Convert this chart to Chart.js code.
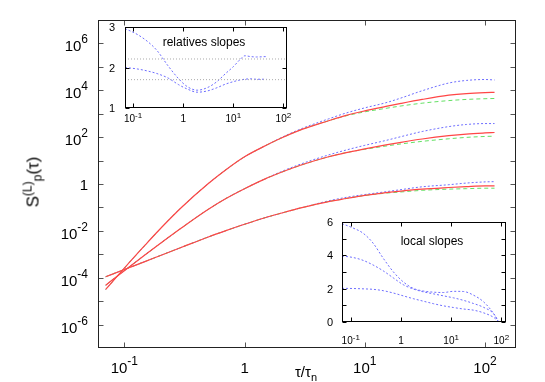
<!DOCTYPE html>
<html lang="en">
<head>
<meta charset="UTF-8" />
<title>S_p(tau) structure functions</title>
<script src="https://cdn.jsdelivr.net/npm/chart.js@4.4.0/dist/chart.umd.min.js"></script>
<style>
  html, body { margin: 0; padding: 0; background: #fff; }
  #wrap { position: relative; width: 545px; height: 382px; font-family: 'Liberation Sans', Arial, sans-serif; color: #000; }
  canvas { position: absolute; }
  .lbl { position: absolute; white-space: nowrap; }
  #ytitle { left: 34px; top: 182px; font-size: 17px; line-height: 17px; transform: translate(-50%, -50%) rotate(-90deg); }
  #ytitle .sup { font-size: 12px; position: relative; top: -7px; }
  #ytitle .sub { font-size: 12px; position: relative; top: 3px; }
  #xtitle { left: 306px; top: 364px; font-size: 15px; line-height: 15px; transform: translateX(-50%); }
  #xtitle .sub { font-size: 11px; position: relative; top: 4px; }
  .ititle { font-size: 12px; line-height: 12px; transform: translateX(-50%); }
</style>
</head>
<body>
<div id="wrap">
  <canvas id="main" width="545" height="382" style="left:0;top:0"></canvas>
  <canvas id="rel" width="200" height="110" style="left:100px;top:20px"></canvas>
  <canvas id="loc" width="200" height="145" style="left:315px;top:210px"></canvas>
  <div class="lbl" id="ytitle">S<span class="sup">(L)</span><span class="sub">p</span>(τ)</div>
  <div class="lbl" id="xtitle">τ/τ<span class="sub">n</span></div>
  <div class="lbl ititle" style="left:204px;top:36px">relatives slopes</div>
  <div class="lbl ititle" style="left:432px;top:235px">local slopes</div>
</div>
<script>
  // main plot: S_p(tau), p = 2, 4, 6 (solid / dashed / dotted)
  const tau = [0.07, 0.1, 0.15, 0.2, 0.3, 0.5, 0.7, 1, 1.5, 2, 3, 5, 7, 10, 15, 20, 30, 50, 70, 100, 120];

  const S6_solid  = [3.16e-5, 2.57e-4, 2.57e-3, 1.26e-2, 0.102, 1.05, 4.07, 14.5, 43.7, 89.1, 214, 501, 851, 1318, 2042, 2754, 4074, 6166, 7244, 7943, 8128];
  const S6_dashed = [3.16e-5, 2.57e-4, 2.57e-3, 1.26e-2, 0.102, 1.05, 4.07, 14.5, 43.7, 89.1, 214, 501, 813, 1202, 1698, 2138, 2818, 3631, 4074, 4365, 4467];
  const S6_dotted = [3.16e-5, 2.57e-4, 2.57e-3, 1.26e-2, 0.102, 1.05, 4.07, 14.5, 43.7, 93.3, 234, 603, 1072, 1778, 2951, 4677, 9550, 20417, 26303, 28840, 27542];

  const S4_solid  = [4.79e-5, 2.0e-4, 9.77e-4, 2.95e-3, 1.35e-2, 8.32e-2, 0.240, 0.631, 1.70, 3.09, 6.61, 14.5, 21.9, 31.6, 46.8, 60.3, 83.2, 115, 135, 151, 158];
  const S4_dashed = [4.79e-5, 2.0e-4, 9.77e-4, 2.95e-3, 1.35e-2, 8.32e-2, 0.240, 0.631, 1.70, 3.09, 6.61, 14.5, 21.9, 30.2, 41.7, 51.3, 66.1, 85.1, 97.7, 107, 110];
  const S4_dotted = [4.79e-5, 2.0e-4, 9.77e-4, 2.95e-3, 1.35e-2, 8.32e-2, 0.240, 0.631, 1.70, 3.31, 7.41, 17.4, 28.2, 44.7, 72.4, 105, 174, 282, 347, 380, 380];

  const S2_solid  = [1.10e-4, 2.24e-4, 5.01e-4, 8.91e-4, 2.0e-3, 5.5e-3, 1.02e-2, 1.91e-2, 3.72e-2, 5.62e-2, 9.77e-2, 0.178, 0.240, 0.324, 0.427, 0.501, 0.603, 0.708, 0.776, 0.832, 0.832];
  const S2_dashed = [1.10e-4, 2.24e-4, 5.01e-4, 8.91e-4, 2.0e-3, 5.5e-3, 1.02e-2, 1.91e-2, 3.72e-2, 5.62e-2, 9.77e-2, 0.178, 0.240, 0.324, 0.407, 0.457, 0.537, 0.603, 0.631, 0.661, 0.661];
  const S2_dotted = [1.10e-4, 2.24e-4, 5.01e-4, 8.91e-4, 2.0e-3, 5.5e-3, 1.02e-2, 1.91e-2, 3.72e-2, 5.62e-2, 9.77e-2, 0.191, 0.269, 0.355, 0.468, 0.575, 0.759, 0.933, 1.096, 1.23, 1.259];

  // inset "relatives slopes"
  const relTau   = [0.069, 0.12, 0.2, 0.3, 0.5, 0.8, 1.2, 1.9, 3, 4.7, 7, 10, 13.5, 17, 22, 29, 46];
  const relUpper = [2.96, 2.82, 2.63, 2.42, 2.04, 1.73, 1.53, 1.44, 1.50, 1.65, 1.85, 2.02, 2.19, 2.29, 2.27, 2.26, 2.27];
  const relLower = [2.0, 1.965, 1.91, 1.85, 1.74, 1.58, 1.47, 1.39, 1.42, 1.50, 1.59, 1.65, 1.69, 1.71, 1.72, 1.71, 1.71];
  const relRef   = [2.21, 1.70];

  // inset "local slopes"
  const locTau = [0.067, 0.111, 0.176, 0.279, 0.443, 0.702, 1.11, 1.76, 2.79, 4.43, 7.02, 11.1, 17.6, 27.9, 44.3, 70.2, 87];
  const loc6 = [5.90, 5.64, 5.33, 4.73, 3.83, 3.02, 2.41, 2.02, 1.86, 1.79, 1.77, 1.84, 1.83, 1.61, 1.21, 0.51, 0.04];
  const loc4 = [3.96, 3.87, 3.70, 3.42, 3.07, 2.65, 2.24, 1.98, 1.81, 1.69, 1.57, 1.45, 1.30, 1.11, 0.88, 0.50, 0.04];
  const loc2 = [2.02, 2.01, 1.99, 1.96, 1.88, 1.74, 1.57, 1.40, 1.25, 1.10, 0.97, 0.87, 0.78, 0.71, 0.55, 0.28, 0.04];

  // ticks
  const decadesX = [0.1, 1, 10, 100];
  const decadeLabels = [[0.1, '10', '-1'], [1, '1', ''], [10, '10', '1'], [100, '10', '2']];
  const mainYTicks = [1e-6, 1e-5, 1e-4, 1e-3, 1e-2, 1e-1, 1, 1e1, 1e2, 1e3, 1e4, 1e5, 1e6];
  const mainYLabels = [[1e-6, '10', '-6'], [1e-4, '10', '-4'], [1e-2, '10', '-2'], [1, '1', ''], [1e2, '10', '2'], [1e4, '10', '4'], [1e6, '10', '6']];
  const relYTicks = [1, 2, 3];
  const locYTicks = [0, 1, 2, 3, 4, 5, 6];

  const FONT = "'Liberation Sans', Arial, sans-serif";
  const RED = 'rgb(255,70,70)';
  const GREEN = 'rgb(100,225,100)';
  const BLUE = 'rgb(110,110,255)';

  function series(xs, ys) {
    return xs.map((x, i) => ({ x: x, y: ys[i] }));
  }

  function drawLabel(ctx, base, exp, x, y, align, c) {
    ctx.font = c.size + 'px ' + FONT;
    const wb = ctx.measureText(base).width;
    ctx.font = c.expSize + 'px ' + FONT;
    const we = exp ? ctx.measureText(exp).width : 0;
    const x0 = align === 'center' ? x - (wb + we) / 2 : x - (wb + we);
    ctx.textAlign = 'left';
    ctx.textBaseline = 'alphabetic';
    ctx.fillStyle = '#000';
    ctx.font = c.size + 'px ' + FONT;
    ctx.fillText(base, x0, y);
    if (exp) {
      ctx.font = c.expSize + 'px ' + FONT;
      ctx.fillText(exp, x0 + wb, y - c.rise);
    }
  }

  // gnuplot-like box: inward ticks on all four sides, labels outside
  function makeFrame(c) {
    return {
      id: 'frame',
      beforeDraw(chart) {
        const a = chart.chartArea, ctx = chart.ctx;
        ctx.save();
        ctx.fillStyle = '#fff';
        ctx.fillRect(a.left, a.top, a.right - a.left, a.bottom - a.top);
        ctx.restore();
      },
      afterDraw(chart) {
        const ctx = chart.ctx, a = chart.chartArea;
        const sx = chart.scales.x, sy = chart.scales.y;
        const L = Math.round(a.left) + 0.5, R = Math.round(a.right) - 0.5;
        const T = Math.round(a.top) + 0.5, B = Math.round(a.bottom) - 0.5;
        ctx.save();
        ctx.lineWidth = 1;
        ctx.strokeStyle = c.tickColor;
        ctx.beginPath();
        c.xTicks.forEach(v => {
          const px = Math.round(sx.getPixelForValue(v)) + 0.5;
          ctx.moveTo(px, B); ctx.lineTo(px, B - c.tickLen);
          ctx.moveTo(px, T); ctx.lineTo(px, T + c.tickLen);
        });
        c.yTicks.forEach(v => {
          const py = Math.round(sy.getPixelForValue(v)) + 0.5;
          ctx.moveTo(L, py); ctx.lineTo(L + c.tickLen, py);
          ctx.moveTo(R, py); ctx.lineTo(R - c.tickLen, py);
        });
        ctx.stroke();
        ctx.strokeStyle = c.border;
        ctx.strokeRect(L, T, R - L, B - T);
        c.xLabels.forEach(([v, b, e]) =>
          drawLabel(ctx, b, e, sx.getPixelForValue(v), a.bottom + c.xDy, 'center', c.x));
        c.yLabels.forEach(([v, b, e]) =>
          drawLabel(ctx, b, e, a.left - c.yDx, sy.getPixelForValue(v) + (e ? c.yDyExp : c.yDy), 'right', c.y));
        ctx.restore();
      }
    };
  }

  function baseOptions(padding, xmin, xmax, yType, ymin, ymax) {
    return {
      responsive: false,
      animation: false,
      devicePixelRatio: 1,
      layout: { padding: padding },
      scales: {
        x: { type: 'logarithmic', display: false, min: xmin, max: xmax },
        y: { type: yType, display: false, min: ymin, max: ymax }
      },
      elements: {
        point: { radius: 0 },
        line: { cubicInterpolationMode: 'monotone', borderWidth: 1 }
      },
      plugins: { legend: { display: false }, tooltip: { enabled: false } }
    };
  }

  // red solid on top, then green dashed, blue dotted underneath
  function group(ys) {
    return [
      { data: series(tau, ys[2]), borderColor: BLUE, borderDash: [2, 2], order: 3 },
      { data: series(tau, ys[1]), borderColor: GREEN, borderDash: [4, 3], order: 2 },
      { data: series(tau, ys[0]), borderColor: RED, borderWidth: 1.2, order: 1 }
    ];
  }

  new Chart(document.getElementById('main'), {
    type: 'line',
    data: {
      datasets: [].concat(
        group([S6_solid, S6_dashed, S6_dotted]),
        group([S4_solid, S4_dashed, S4_dotted]),
        group([S2_solid, S2_dashed, S2_dotted])
      )
    },
    options: baseOptions({ left: 98, top: 20, right: 29, bottom: 34 }, 0.0604, 181, 'logarithmic', 1e-7, 1e7),
    plugins: [makeFrame({
      border: '#222', tickColor: '#555', tickLen: 5,
      xTicks: decadesX, yTicks: mainYTicks,
      xLabels: decadeLabels, yLabels: mainYLabels,
      xDy: 25, yDx: 10, yDy: 5.5, yDyExp: 8,
      x: { size: 15, expSize: 12, rise: 8 },
      y: { size: 15, expSize: 12, rise: 8 }
    })]
  });

  new Chart(document.getElementById('rel'), {
    type: 'line',
    data: {
      datasets: [
        { data: [{ x: 0.069, y: relRef[0] }, { x: 118, y: relRef[0] }], borderColor: '#aaa', borderDash: [1, 2] },
        { data: [{ x: 0.069, y: relRef[1] }, { x: 118, y: relRef[1] }], borderColor: '#aaa', borderDash: [1, 2] },
        { data: series(relTau, relUpper), borderColor: BLUE, borderDash: [2, 2] },
        { data: series(relTau, relLower), borderColor: BLUE, borderDash: [2, 2] }
      ]
    },
    options: baseOptions({ left: 25, top: 7, right: 13, bottom: 22 }, 0.069, 118, 'linear', 1, 3),
    plugins: [makeFrame({
      border: '#000', tickColor: '#000', tickLen: 4,
      xTicks: decadesX, yTicks: relYTicks,
      xLabels: decadeLabels, yLabels: relYTicks.map(v => [v, String(v), '']),
      xDy: 14, yDx: 10, yDy: 4, yDyExp: 4,
      x: { size: 10, expSize: 8, rise: 4.5 },
      y: { size: 11, expSize: 8, rise: 4.5 }
    })]
  });

  new Chart(document.getElementById('loc'), {
    type: 'line',
    data: {
      datasets: [
        { data: series(locTau, loc6), borderColor: BLUE, borderDash: [2, 2] },
        { data: series(locTau, loc4), borderColor: BLUE, borderDash: [2, 2] },
        { data: series(locTau, loc2), borderColor: BLUE, borderDash: [2, 2] }
      ]
    },
    options: baseOptions({ left: 27, top: 12, right: 9, bottom: 33 }, 0.067, 124, 'linear', 0, 6),
    plugins: [makeFrame({
      border: '#000', tickColor: '#000', tickLen: 4,
      xTicks: decadesX, yTicks: locYTicks,
      xLabels: decadeLabels, yLabels: [0, 2, 4, 6].map(v => [v, String(v), '']),
      xDy: 22, yDx: 9, yDy: 4, yDyExp: 4,
      x: { size: 10, expSize: 8, rise: 4.5 },
      y: { size: 11, expSize: 8, rise: 4.5 }
    })]
  });
</script>
</body>
</html>
